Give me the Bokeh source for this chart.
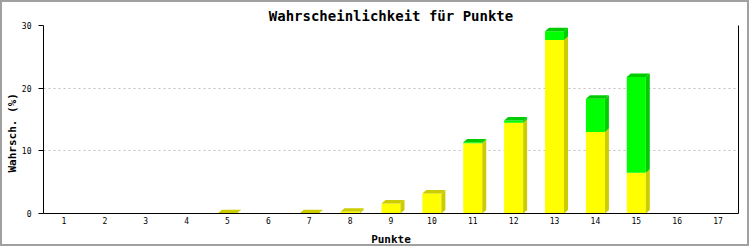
from bokeh.plotting import figure
from bokeh.models import LinearAxis, FixedTicker, Range1d, Title
from bokeh.embed import file_html
from bokeh.resources import INLINE

# ---- data ----
categories = list(range(1, 18))
yellow_vals = [0, 0, 0, 0, 0.05, 0, 0.05, 0.3, 1.6, 3.2, 11.2, 14.5, 27.7, 13.0, 6.5, 0, 0]
green_vals = [0, 0, 0, 0, 0, 0, 0, 0, 0, 0, 0.15, 0.35, 1.4, 5.3, 15.3, 0, 0]
y_ticks = [0, 10, 20, 30]
title_text = "Wahrscheinlichkeit für Punkte"
x_label = "Punkte"
y_label = "Wahrsch. (%)"

# ---- style ----
YEL, YEL_D = "#ffff00", "#cccc00"
GRN, GRN_D = "#00ff00", "#00cc00"
W, H = 749, 246
BL, BR, BT, BB = 41, 13, 23, 34
frame_w = W - BL - BR
frame_h = H - BT - BB
x0, x1 = 0.5, len(categories) + 0.5
y0, y1 = 0, 30
ux = (x1 - x0) / frame_w      # data units per pixel
uy = (y1 - y0) / frame_h
HW = 9.5 * ux                 # half front width
DX = 4 * ux                   # depth offset
DY = 3.5 * uy
font = "DejaVu Sans Mono"

p = figure(width=W, height=H, output_backend="svg", toolbar_location=None,
           x_range=Range1d(x0, x1), y_range=Range1d(y0, y1),
           min_border_left=BL, min_border_right=BR,
           min_border_top=BT, min_border_bottom=BB,
           background_fill_color="white", border_fill_color="white")
p.styles = {"border": "2px solid #a0a0a0"}
p.outline_line_color = None

p.title.text = title_text
p.title.align = "center"
p.title.text_font = font
p.title.text_font_size = "14px"
p.title.text_font_style = "bold"
p.title.text_color = "black"
p.title.standoff = 3
p.title.offset = 0

xs, ys, cols = [], [], []
for c, yv, gv in zip(categories, yellow_vals, green_vals):
    tot = yv + gv
    if tot <= 0:
        continue
    l, r = c - HW, c + HW
    if yv > 0:
        xs.append([l, r, r, l]); ys.append([0, 0, yv, yv]); cols.append(YEL)
        xs.append([r, r + DX, r + DX, r]); ys.append([0, DY, yv + DY, yv]); cols.append(YEL_D)
    if gv > 0:
        xs.append([l, r, r, l]); ys.append([yv, yv, tot, tot]); cols.append(GRN)
        xs.append([r, r + DX, r + DX, r]); ys.append([yv, yv + DY, tot + DY, tot]); cols.append(GRN_D)
    top_col = GRN_D if gv > 0 else YEL_D
    xs.append([l, r, r + DX, l + DX]); ys.append([tot, tot, tot + DY, tot + DY]); cols.append(top_col)

p.patches(xs, ys, fill_color=cols, line_color=None)

# axes
yax = p.yaxis[0]
yax.ticker = FixedTicker(ticks=y_ticks)
yax.minor_tick_line_color = None
yax.major_tick_in = 0
yax.major_tick_out = 5
yax.major_label_standoff = 7
yax.major_label_text_font = font
yax.major_label_text_font_size = "8px"
yax.major_label_text_color = "black"
yax.axis_line_color = "black"
yax.major_tick_line_color = "black"

xax = p.xaxis[0]
xax.ticker = FixedTicker(ticks=categories)
xax.minor_tick_line_color = None
xax.major_tick_in = 0
xax.major_tick_out = 0
xax.major_label_standoff = 3
xax.major_label_text_font = font
xax.major_label_text_font_size = "8px"
xax.major_label_text_color = "black"
xax.axis_label = x_label
xax.axis_label_text_font = font
xax.axis_label_text_font_size = "11px"
xax.axis_label_text_font_style = "bold"
xax.axis_label_text_color = "black"
xax.axis_label_standoff = 6
xax.axis_line_color = "black"

rax = LinearAxis(ticker=FixedTicker(ticks=[]), major_tick_out=0, major_tick_in=0,
                 minor_tick_line_color=None, major_label_standoff=0,
                 major_label_text_font_size="0px", axis_line_color="black")
p.add_layout(rax, "right")

# y axis title, as a rotated title in the left panel (placed like the original)
ytitle = Title(text=y_label, align="left", offset=41, standoff=0,
               text_font=font, text_font_size="11px", text_font_style="bold",
               text_color="black")
p.add_layout(ytitle, "left")

p.xgrid.visible = False
p.ygrid.ticker = FixedTicker(ticks=y_ticks)
p.ygrid.grid_line_color = "#c0c0c0"
p.ygrid.grid_line_dash = "2 3"

open("out.html", "w").write(file_html(p, INLINE))
